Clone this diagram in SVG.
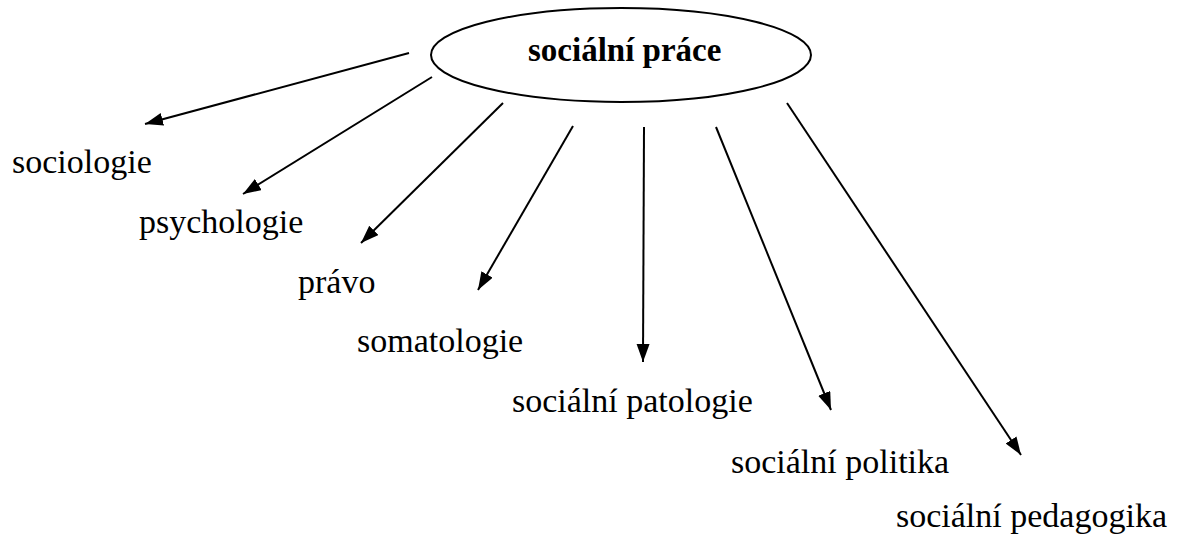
<svg xmlns="http://www.w3.org/2000/svg" width="1184" height="538" viewBox="0 0 1184 538">
<style>
.lbl{font-family:"Liberation Serif","Times New Roman",serif;font-size:34px;fill:#000}
.title{font-family:"Liberation Serif","Times New Roman",serif;font-size:33px;font-weight:bold;fill:#000}
.edge{stroke:#000;stroke-width:2;fill:none;marker-end:url(#ah)}
</style>
<defs>
<marker id="ah" markerUnits="userSpaceOnUse" markerWidth="20" markerHeight="14" refX="18" refY="6.5" orient="auto">
<path d="M0,0 L18,6.5 L0,13 z" fill="#000"/>
</marker>
</defs>
<rect width="1184" height="538" fill="#fff"/>
<g id="connectors">
<line class="edge" x1="409" y1="53" x2="145" y2="124"/>
<line class="edge" x1="432" y1="77" x2="243" y2="194"/>
<line class="edge" x1="503" y1="103" x2="361" y2="243"/>
<line class="edge" x1="573" y1="126" x2="478" y2="290"/>
<line class="edge" x1="644" y1="127" x2="643" y2="362"/>
<line class="edge" x1="716" y1="127" x2="831" y2="410"/>
<line class="edge" x1="787" y1="103" x2="1021" y2="455"/>
</g>
<g id="socialni-prace">
<ellipse cx="621" cy="55" rx="190" ry="47" fill="none" stroke="#000" stroke-width="2"/>
<text class="title" x="528" y="61">sociální práce</text>
</g>
<g id="sociologie"><text class="lbl" x="12" y="173">sociologie</text></g>
<g id="psychologie"><text class="lbl" x="139" y="233">psychologie</text></g>
<g id="pravo"><text class="lbl" x="298" y="293">právo</text></g>
<g id="somatologie"><text class="lbl" x="357" y="352">somatologie</text></g>
<g id="socialni-patologie"><text class="lbl" x="512" y="412">sociální patologie</text></g>
<g id="socialni-politika"><text class="lbl" x="731" y="473">sociální politika</text></g>
<g id="socialni-pedagogika"><text class="lbl" x="896" y="527">sociální pedagogika</text></g>
</svg>
